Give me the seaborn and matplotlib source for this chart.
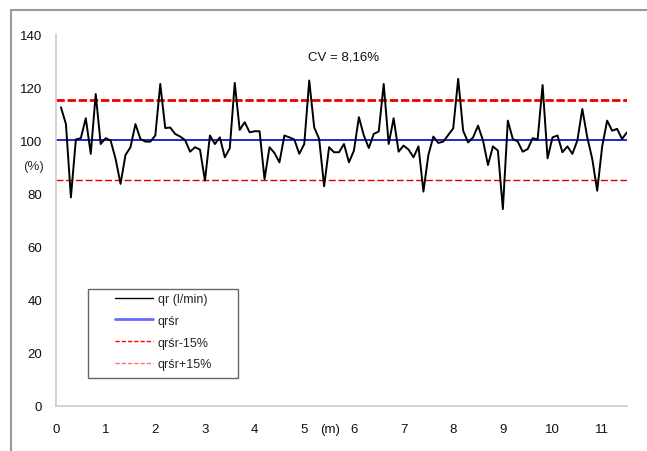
import numpy as np
import pandas as pd
import matplotlib
matplotlib.use("Agg")
import matplotlib.pyplot as plt
from matplotlib.lines import Line2D
from matplotlib.patches import Rectangle
import seaborn as sns

# ---------------- data ----------------
distance_m = np.round(np.arange(1, 116) * 0.1, 1)
qr_pct = [
    112.4, 106.1, 78.5, 100.3, 100.8, 108.3, 94.9, 117.4, 98.6, 100.8,
    99.9, 93.0, 83.6, 94.5, 97.4, 106.1, 100.5, 99.5, 99.5, 101.8,
    121.2, 104.6, 104.8, 102.4, 101.4, 100.1, 95.7, 97.4, 96.5, 84.8,
    101.8, 98.6, 101.1, 93.6, 97.0, 121.6, 103.9, 106.8, 103.0, 103.4,
    103.4, 85.4, 97.4, 95.2, 91.7, 101.8, 101.1, 100.3, 94.9, 98.6,
    122.5, 104.9, 100.5, 82.7, 97.4, 95.5, 95.5, 98.6, 91.7, 96.1,
    108.7, 101.8, 97.1, 102.4, 103.3, 121.2, 98.6, 108.3, 95.7, 98.0,
    96.5, 93.6, 97.7, 80.7, 94.5, 101.4, 99.0, 99.5, 102.0, 104.5,
    123.1, 103.6, 99.2, 101.1, 105.5, 99.9, 90.7, 97.7, 96.1, 74.1,
    107.4, 100.5, 99.5, 95.7, 96.7, 100.8, 100.3, 120.8, 93.2, 101.1,
    101.8, 95.5, 97.7, 94.9, 99.9, 111.8, 101.1, 93.0, 81.0, 97.7,
    107.4, 103.6, 104.3, 100.5, 103.0,
]
mean_level = 100
lower_level = 85
upper_level = 115
x_ticks = list(range(0, 12))
y_ticks = list(range(0, 141, 20))
legend_labels = ["qr (l/min)", "qrśr", "qrśr-15%", "qrśr+15%"]
cv_text = "CV = 8,16%"

df = pd.DataFrame({"x": distance_m, "qr": qr_pct})

# ---------------- style ----------------
sns.set_theme(style="white")
plt.rcParams["font.family"] = ["Liberation Sans", "DejaVu Sans"]

W, H = 647, 452
fig = plt.figure(figsize=(W / 100, H / 100), dpi=100)
fig.patch.set_facecolor("white")

def fx(px):
    return px / W

def fy(py):
    return 1 - py / H

ax_l, ax_r, ax_t, ax_b = 56, 627, 35, 407
ax = fig.add_axes([fx(ax_l), fy(ax_b), fx(ax_r) - fx(ax_l), fy(ax_t) - fy(ax_b)])
ax.set_facecolor("white")

# outer frame (top and left lines)
fig.add_artist(Line2D([fx(11), 1.0], [fy(11), fy(11)], transform=fig.transFigure,
                      color="#999999", lw=1.5))
fig.add_artist(Line2D([fx(11), fx(11)], [fy(11), 0.0], transform=fig.transFigure,
                      color="#999999", lw=1.5))

# reference lines
ax.axhline(upper_level, color="#ee0000", lw=2.0, ls=(0, (3, 1)), zorder=2)
ax.axhline(mean_level, color="#0000cc", lw=1.2, zorder=2)
ax.axhline(lower_level, color="#dd0000", lw=1.0, ls=(0, (5, 2)), zorder=2)

sns.lineplot(data=df, x="x", y="qr", ax=ax, color="black", lw=1.4, zorder=3)

ax.set_xlim(0, 11.5)
ax.set_ylim(0, 140)
ax.set_xticks(x_ticks)
ax.set_yticks(y_ticks)
ax.set_xlabel("")
ax.set_ylabel("")

for s in ["top", "right"]:
    ax.spines[s].set_visible(False)
for s in ["left", "bottom"]:
    ax.spines[s].set_color("#cccccc")
    ax.spines[s].set_linewidth(1.2)

ax.tick_params(axis="both", direction="out", length=4, width=1, color="#444444",
               labelsize=9.5, labelcolor="#111111", pad=6)
ax.tick_params(axis="x", pad=8)

ax.text(0.48, -0.062, "(m)", transform=ax.transAxes, ha="center", va="center",
        fontsize=9.5, color="#111111")
ax.text(-0.040, 0.645, "(%)", transform=ax.transAxes, ha="center", va="center",
        fontsize=9.5, color="#333333")
ax.text(5.8, 131.5, cv_text, ha="center", va="center", fontsize=9.5, color="#111111")

# legend
handles = [
    Line2D([], [], color="black", lw=1.0),
    Line2D([], [], color="#6a6aff", lw=2.0),
    Line2D([], [], color="#ff0000", lw=1.0, ls=(0, (3, 1.5))),
    Line2D([], [], color="#ff7070", lw=1.0, ls=(0, (3, 1.5))),
]
ax.legend(handles, legend_labels, loc="upper left",
          bbox_to_anchor=((115 - ax_l) / (ax_r - ax_l), (ax_b - 294) / (ax_b - ax_t)),
          frameon=False, borderpad=0, borderaxespad=0, fontsize=9,
          handlelength=3.0, handletextpad=0.4, labelspacing=0.78)
ax.add_patch(Rectangle(((88 - ax_l) / (ax_r - ax_l), (ax_b - 379) / (ax_b - ax_t)),
                       (238 - 88) / (ax_r - ax_l), (379 - 290) / (ax_b - ax_t),
                       transform=ax.transAxes, fill=False, edgecolor="#666666",
                       lw=1.0, zorder=5, clip_on=False))

fig.savefig("out.png", dpi=100, facecolor="white")
